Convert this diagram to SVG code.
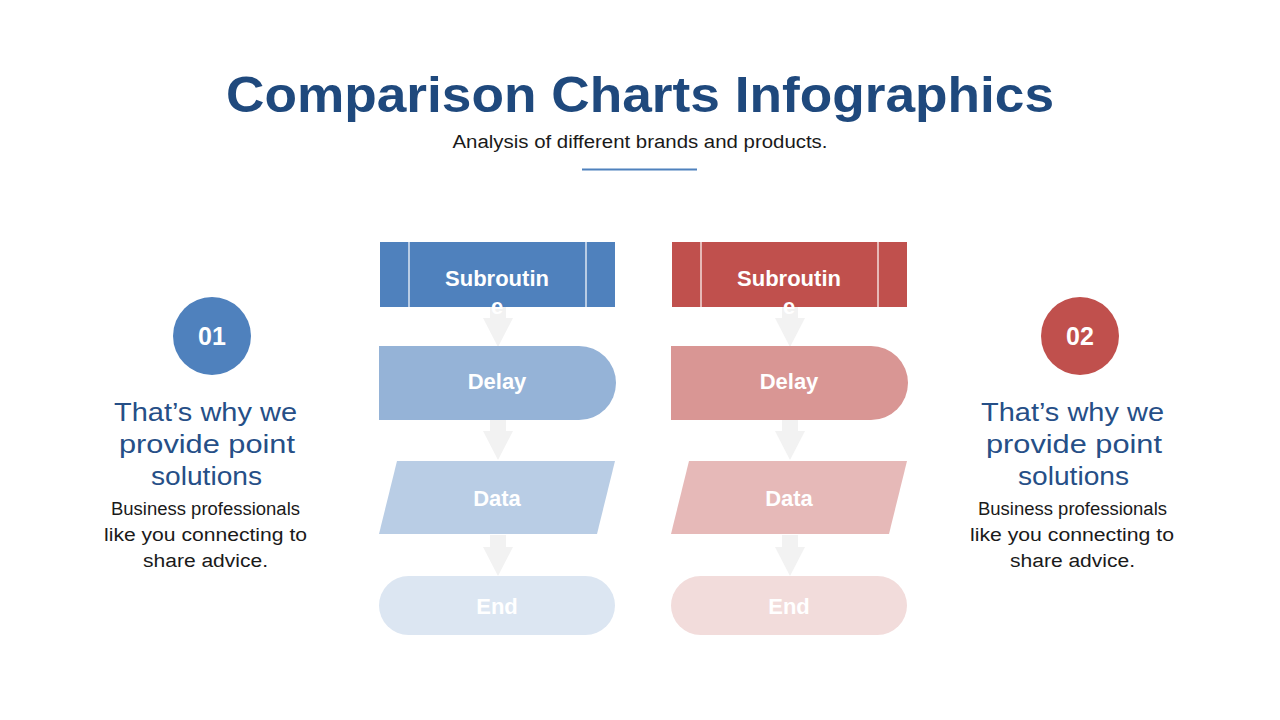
<svg xmlns="http://www.w3.org/2000/svg" width="1280" height="720" viewBox="0 0 1280 720">
<style>
text{font-family:"Liberation Sans",Arial,sans-serif}
.title{font-size:50px;font-weight:bold;fill:#1f497d}
.sub{font-size:18px;fill:#1a1a1a}
.nt{font-size:22px;font-weight:bold;fill:#ffffff}
.num{font-size:25px;font-weight:bold;fill:#ffffff}
.hd{font-size:25px;fill:#264f87}
.bd{font-size:18px;fill:#1a1a1a}
.arr{fill:#f2f2f2}
.sep{stroke:#ffffff;stroke-opacity:0.6;stroke-width:2}
</style>
<rect width="1280" height="720" fill="#ffffff"/>
<g id="header">
<text class="title" x="640" y="112" text-anchor="middle" textLength="828" lengthAdjust="spacingAndGlyphs">Comparison Charts Infographics</text>
<text class="sub" x="640" y="148" text-anchor="middle" textLength="375" lengthAdjust="spacingAndGlyphs">Analysis of different brands and products.</text>
<line x1="582" y1="169.5" x2="697" y2="169.5" stroke="#4f81bd" stroke-width="2"/>
</g>
<g id="connectors">
<path class="arr" d="M490,307 H506 V318 H513 L498,347 L483,318 H490 Z"/>
<path class="arr" d="M490,420 H506 V431 H513 L498,460 L483,431 H490 Z"/>
<path class="arr" d="M490,535 H506 V547 H513 L498,576 L483,547 H490 Z"/>
<path class="arr" d="M782,307 H798 V318 H805 L790,347 L775,318 H782 Z"/>
<path class="arr" d="M782,420 H798 V431 H805 L790,460 L775,431 H782 Z"/>
<path class="arr" d="M782,535 H798 V547 H805 L790,576 L775,547 H782 Z"/>
</g>
<g id="blue-subroutine">
<rect x="380" y="242" width="235" height="65" fill="#4f81bd"/>
<line class="sep" x1="409" y1="242" x2="409" y2="307"/>
<line class="sep" x1="586" y1="242" x2="586" y2="307"/>
<text class="nt" x="497" y="286" text-anchor="middle">Subroutin</text>
<text class="nt" x="497" y="314" text-anchor="middle">e</text>
</g>
<g id="blue-delay">
<path d="M379,346 H579 A37,37 0 0 1 579,420 H379 Z" fill="#95b3d7"/>
<text class="nt" x="497" y="389" text-anchor="middle">Delay</text>
</g>
<g id="blue-data">
<path d="M397,461 H615 L597,534 H379 Z" fill="#b9cde5"/>
<text class="nt" x="497" y="506" text-anchor="middle">Data</text>
</g>
<g id="blue-end">
<rect x="379" y="576" width="236" height="59" rx="29.5" fill="#dce6f2"/>
<text class="nt" x="497" y="614" text-anchor="middle">End</text>
</g>
<g id="red-subroutine">
<rect x="672" y="242" width="235" height="65" fill="#c0504d"/>
<line class="sep" x1="701" y1="242" x2="701" y2="307"/>
<line class="sep" x1="878" y1="242" x2="878" y2="307"/>
<text class="nt" x="789" y="286" text-anchor="middle">Subroutin</text>
<text class="nt" x="789" y="314" text-anchor="middle">e</text>
</g>
<g id="red-delay">
<path d="M671,346 H871 A37,37 0 0 1 871,420 H671 Z" fill="#d99694"/>
<text class="nt" x="789" y="389" text-anchor="middle">Delay</text>
</g>
<g id="red-data">
<path d="M689,461 H907 L889,534 H671 Z" fill="#e6b9b8"/>
<text class="nt" x="789" y="506" text-anchor="middle">Data</text>
</g>
<g id="red-end">
<rect x="671" y="576" width="236" height="59" rx="29.5" fill="#f2dcdb"/>
<text class="nt" x="789" y="614" text-anchor="middle">End</text>
</g>
<g id="left-panel">
<circle cx="212" cy="336" r="39" fill="#4f81bd"/>
<text class="num" x="212" y="345" text-anchor="middle">01</text>
<text class="hd" x="205.5" y="421" text-anchor="middle" textLength="183" lengthAdjust="spacingAndGlyphs">That’s why we</text>
<text class="hd" x="207" y="453" text-anchor="middle" textLength="176" lengthAdjust="spacingAndGlyphs">provide point</text>
<text class="hd" x="206.5" y="485" text-anchor="middle" textLength="111" lengthAdjust="spacingAndGlyphs">solutions</text>
<text class="bd" x="205.5" y="515" text-anchor="middle" textLength="189" lengthAdjust="spacingAndGlyphs">Business professionals</text>
<text class="bd" x="205.5" y="541" text-anchor="middle" textLength="203" lengthAdjust="spacingAndGlyphs">like you connecting to</text>
<text class="bd" x="205.5" y="567" text-anchor="middle" textLength="125" lengthAdjust="spacingAndGlyphs">share advice.</text>
</g>
<g id="right-panel">
<circle cx="1080" cy="336" r="39" fill="#c0504d"/>
<text class="num" x="1080" y="345" text-anchor="middle">02</text>
<text class="hd" x="1072.5" y="421" text-anchor="middle" textLength="183" lengthAdjust="spacingAndGlyphs">That’s why we</text>
<text class="hd" x="1074" y="453" text-anchor="middle" textLength="176" lengthAdjust="spacingAndGlyphs">provide point</text>
<text class="hd" x="1073.5" y="485" text-anchor="middle" textLength="111" lengthAdjust="spacingAndGlyphs">solutions</text>
<text class="bd" x="1072.5" y="515" text-anchor="middle" textLength="189" lengthAdjust="spacingAndGlyphs">Business professionals</text>
<text class="bd" x="1072" y="541" text-anchor="middle" textLength="204" lengthAdjust="spacingAndGlyphs">like you connecting to</text>
<text class="bd" x="1072.5" y="567" text-anchor="middle" textLength="125" lengthAdjust="spacingAndGlyphs">share advice.</text>
</g>
</svg>
